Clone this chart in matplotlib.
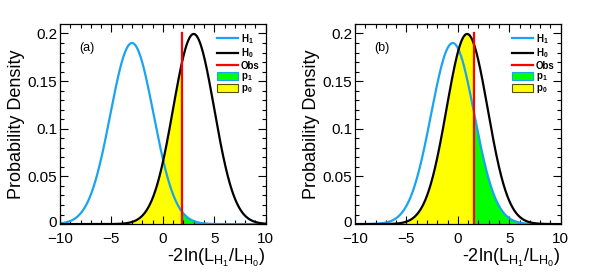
import numpy as np
import matplotlib
matplotlib.use('Agg')
import matplotlib.pyplot as plt
import matplotlib.transforms as mtransforms
from matplotlib.lines import Line2D
from matplotlib.patches import Patch
from matplotlib.ticker import MultipleLocator

plt.rcParams['font.family'] = ['Liberation Sans', 'DejaVu Sans']
plt.rcParams['mathtext.default'] = 'regular'

# parametros: (a) y (b)
panel_labels = ['(a)', '(b)']
h1_mean = [-3.0, -0.5]
h1_sigma = [2.1, 2.1]
h0_mean = [3.0, 0.9]
h0_sigma = [2.0, 2.0]
obs_value = [1.9, 1.6]

BLUE = '#18a4f0'


def gauss(x, mu, sig):
    return np.exp(-0.5 * ((x - mu) / sig) ** 2) / (sig * np.sqrt(2 * np.pi))


fig = plt.figure(figsize=(5.91, 2.77), dpi=100)
lefts = [0.1015, 0.6007]
width = 0.348
bottom, height = 0.191, 0.722

x = np.linspace(-10, 10, 801)

for i in range(2):
    ax = fig.add_axes([lefts[i], bottom, width, height])
    y1 = gauss(x, h1_mean[i], h1_sigma[i])
    y0 = gauss(x, h0_mean[i], h0_sigma[i])
    obs = obs_value[i]

    # areas p0 (amarillo) y p1 (verde)
    ax.fill_between(x, 0, y0, where=x <= obs, color='#ffff00', lw=0)
    ax.fill_between(x, 0, y1, where=x >= obs, color='#00ff00', lw=0)

    ax.plot(x, y1, color=BLUE, lw=1.6)
    ax.plot(x, y0, color='black', lw=1.6)
    ax.plot([obs, obs], [0, 0.2], color='#ff0000', lw=1.6)

    ax.set_xlim(-10, 10)
    ax.set_ylim(0, 0.2098)
    ax.xaxis.set_minor_locator(MultipleLocator(1))
    ax.yaxis.set_minor_locator(MultipleLocator(0.01))
    ax.set_yticks([0, 0.05, 0.1, 0.15, 0.2])
    ax.set_yticklabels(['0', '0.05', '0.1', '0.15', '0.2'])
    ax.set_xticks([-10, -5, 0, 5, 10])
    ax.set_xticklabels(['\u221210', '\u22125', '0', '5', '10'])
    ax.tick_params(which='both', direction='in', top=True, right=True,
                   labelsize=11, width=0.8)
    ax.tick_params(which='major', length=6)
    ax.tick_params(axis='x', which='major', pad=6)
    ax.tick_params(axis='y', which='major', pad=2)
    ax.tick_params(which='minor', length=3)
    for s in ax.spines.values():
        s.set_linewidth(0.9)

    # subir un poco el "0" del eje y para que no pise al -10
    lbl0 = ax.get_yticklabels()[0]
    lbl0.set_transform(lbl0.get_transform() +
                       mtransforms.ScaledTranslation(0, 2 / 72, fig.dpi_scale_trans))

    ax.set_ylabel('Probability Density', fontsize=13, labelpad=2)
    ax.set_xlabel(r'-2ln(L$_{H_1}$/L$_{H_0}$)', fontsize=13, loc='right',
                  labelpad=0.5)

    ax.text(-8.1, 0.185, panel_labels[i], fontsize=9, va='center')

    handles = [
        Line2D([], [], color=BLUE, lw=1.6),
        Line2D([], [], color='black', lw=1.6),
        Line2D([], [], color='#ff0000', lw=1.6),
        Patch(facecolor='#00ff00', edgecolor=BLUE, lw=0.8),
        Patch(facecolor='#ffff00', edgecolor='#555500', lw=0.8),
    ]
    labels = ['H$_1$', 'H$_0$', 'Obs', 'p$_1$', 'p$_0$']
    leg = ax.legend(handles, labels, loc='upper right',
                    bbox_to_anchor=(1.0, 0.99), frameon=False,
                    fontsize=7, handlelength=2.2, handleheight=0.9,
                    labelspacing=0.05, handletextpad=0.3, borderpad=0.1)
    for t in leg.get_texts():
        t.set_fontweight('bold')

plt.savefig('out.png', dpi=100)
